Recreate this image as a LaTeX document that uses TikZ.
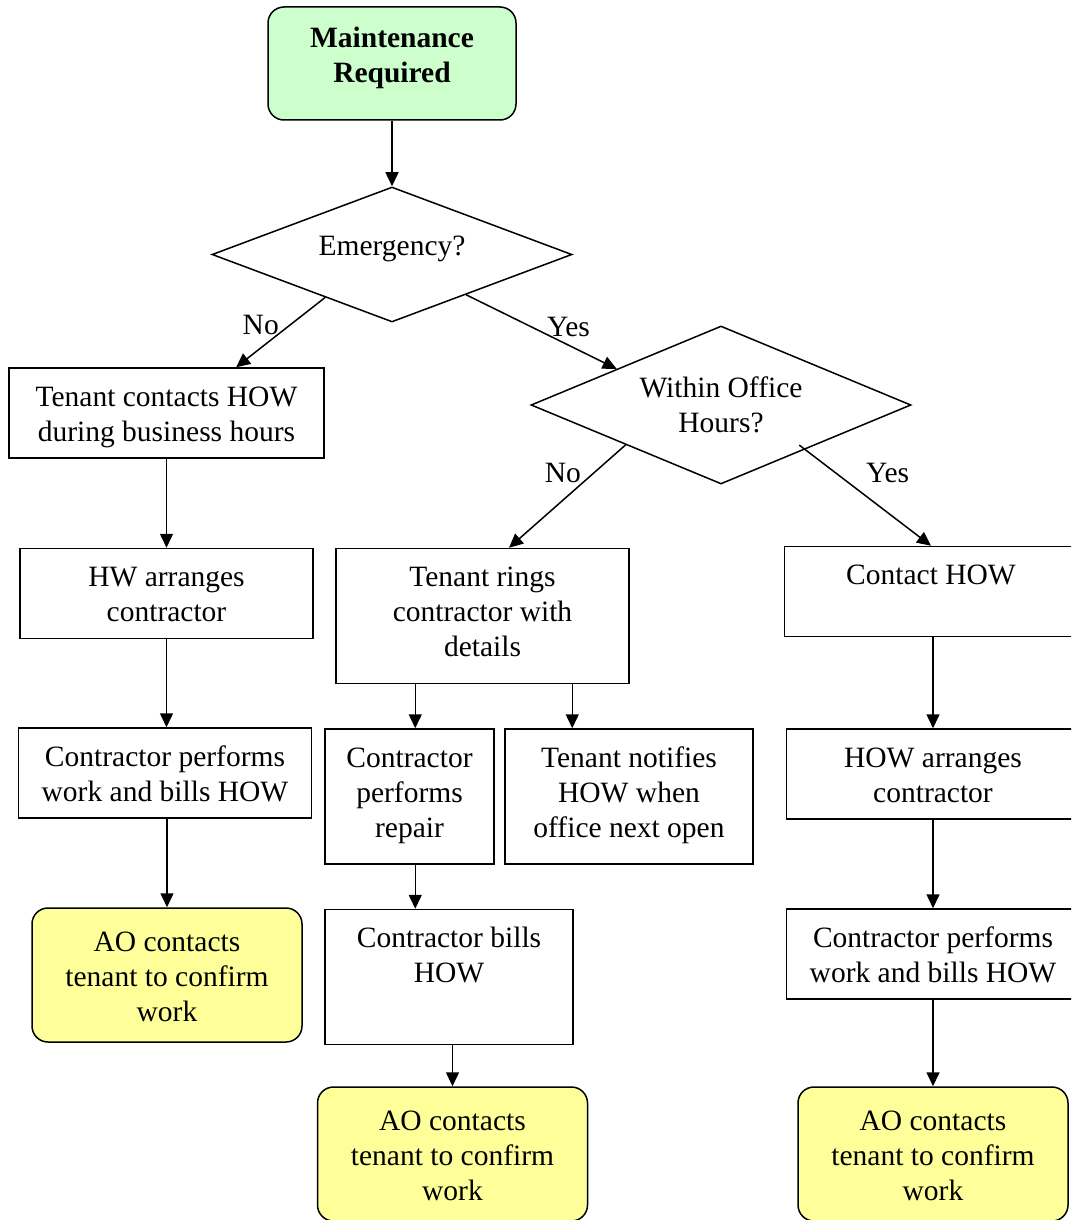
\documentclass[tikz,border=0pt]{standalone}
\usepackage{fontspec}
\setmainfont{Liberation Serif}
\usepackage{tikz}
\usetikzlibrary{shapes.geometric, arrows.meta, positioning, calc}
\definecolor{startgreen}{RGB}{204,255,204}
\definecolor{endyellow}{RGB}{255,255,153}

\begin{document}
\begin{tikzpicture}[
    x=1pt, y=-1pt,
    font=\fontsize{29.5}{35}\selectfont,
    box/.style={rectangle, draw, line width=1.5pt, align=center, inner sep=0pt,
                minimum width=293pt, minimum height=90pt, text height=73pt, text depth=17pt},
    oneline/.style={text height=38pt, text depth=52pt},
    tall/.style={minimum height=135pt, text height=108pt, text depth=27pt},
    narrow/.style={minimum width=248pt},
    startbox/.style={box, rounded corners=16pt, fill=startgreen, minimum width=248pt,
                minimum height=113pt, text height=76pt, text depth=37pt,
                font=\fontsize{29.5}{35}\selectfont\bfseries},
    endbox/.style={box, rounded corners=16pt, fill=endyellow, minimum width=270pt,
                minimum height=134pt, text height=113pt, text depth=21pt},
    decision/.style={diamond, draw, line width=1.5pt, align=center, inner sep=0pt},
    flow/.style={-{Triangle[length=14pt, width=13pt]}, line width=1.5pt},
    lbl/.style={inner sep=0pt}
]
    \useasboundingbox (0,0) rectangle (1071,1220);
    \fill[white] (0,0) rectangle (1071,1220);
    \clip (0,0) rectangle (1071,1220);

    % top and decisions
    \node[startbox] (maint) at (392,63.5) {Maintenance\\Required};
    \node[decision, minimum width=360pt, minimum height=135pt, aspect=2.67, text depth=18pt] (emerg) at (392,254.5) {Emergency?};
    \node[decision, minimum width=380pt, minimum height=158pt, aspect=2.4] (office) at (721,405) {Within Office\\Hours?};

    % left column
    \node[box, minimum width=315pt] (tcont) at (166.5,413) {Tenant contacts HOW\\during business hours};
    \node[box] (hwarr) at (166.5,593.5) {HW arranges\\contractor};
    \node[box] (cwork) at (165,773) {Contractor performs\\work and bills HOW};
    \node[endbox] (aoL) at (167,975) {AO contacts\\tenant to confirm\\work};

    % middle column
    \node[box, tall] (rings) at (482.5,616) {Tenant rings\\contractor with\\details};
    \node[box, tall, minimum width=169pt] (repair) at (409.5,796.5) {Contractor\\performs\\repair};
    \node[box, tall, narrow] (notify) at (629,796.5) {Tenant notifies\\HOW when\\office next open};
    \node[box, tall, narrow, text height=73pt, text depth=62pt] (bills) at (449,977) {Contractor bills\\HOW};
    \node[endbox] (aoM) at (452.5,1154) {AO contacts\\tenant to confirm\\work};

    % right column
    \node[box, oneline] (conhow) at (931,591.5) {Contact HOW};
    \node[box] (howarr) at (933,774) {HOW arranges\\contractor};
    \node[box] (cworkR) at (933,954) {Contractor performs\\work and bills HOW};
    \node[endbox] (aoR) at (933,1154) {AO contacts\\tenant to confirm\\work};

    % connectors
    \draw[flow] (maint) -- (emerg);
    \draw[flow] ($(emerg.south)!0.37!(emerg.west)$) -- node[lbl, pos=0.4, left=10pt] (noA) {No}
        ($(tcont.north west)!0.72!(tcont.north east)$);
    \draw[flow] ($(emerg.south)!0.41!(emerg.east)$) -- node[lbl, pos=0.68, above=8pt] (yesA) {Yes}
        ($(office.west)!0.453!(office.north)$);
    \draw[flow] ($(office.south)!0.5!(office.west)$) -- node[lbl, pos=0.275, left=12pt] (noB) {No}
        ($(rings.north west)!0.59!(rings.north east)$);
    \draw[flow] ($(office.south)!0.41!(office.east)+(0,-7)$) -- node[lbl, pos=0.275, right=30pt] (yesB) {Yes}
        (conhow.north);

    \draw[flow] (tcont.south) -- (tcont.south |- hwarr.north);
    \draw[flow] (hwarr.south) -- (hwarr.south |- cwork.north);
    \draw[flow] (aoL.north |- cwork.south) -- (aoL.north);

    \coordinate (ringsA) at ($(rings.south west)+(80,0)$);
    \coordinate (ringsB) at ($(rings.south west)+(237,0)$);
    \draw[flow] (ringsA) -- (ringsA |- repair.north);
    \draw[flow] (ringsB) -- (ringsB |- notify.north);
    \draw[flow] (ringsA |- repair.south) -- (ringsA |- bills.north);
    \draw[flow] (aoM.north |- bills.south) -- (aoM.north);

    \draw[flow] (howarr.north |- conhow.south) -- (howarr.north);
    \draw[flow] (howarr.south) -- (howarr.south |- cworkR.north);
    \draw[flow] (cworkR.south) -- (aoR.north);
\end{tikzpicture}
\end{document}
